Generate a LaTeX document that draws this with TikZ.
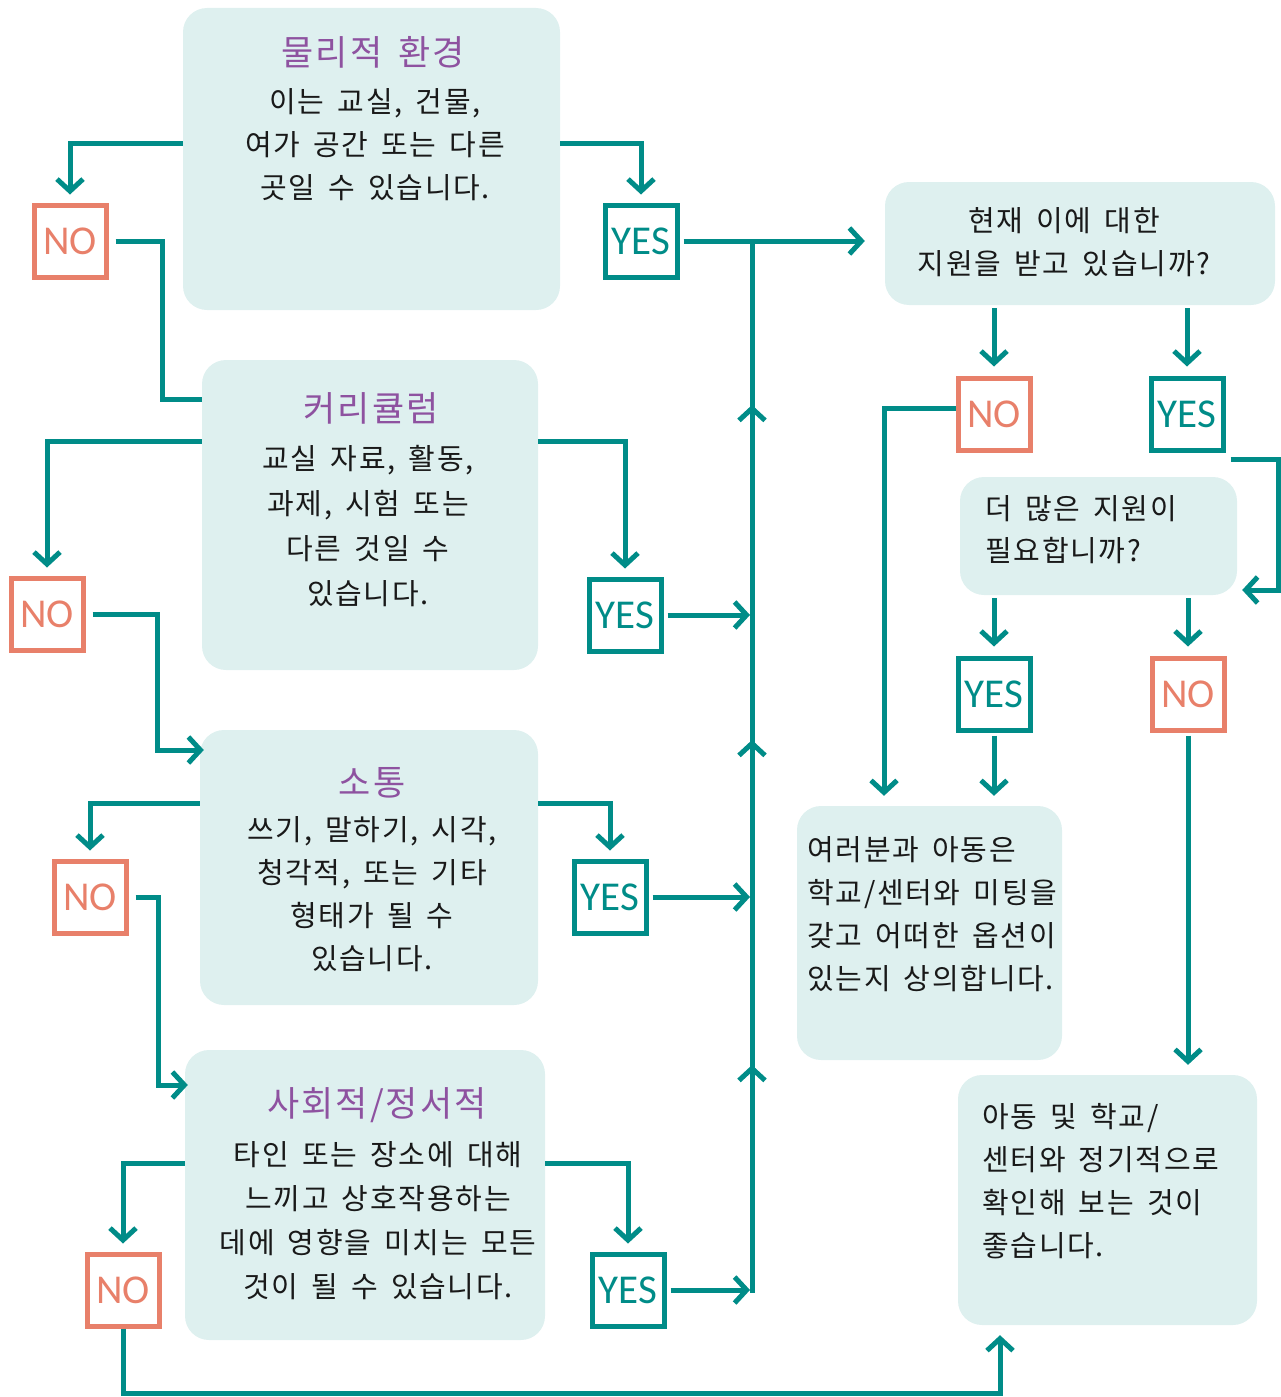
\documentclass[tikz,border=0pt]{standalone}
\usepackage{fontspec}
\setmainfont{Noto Sans CJK KR}[LetterSpace=6,WordSpace=1.6]
\newfontfamily\ynfont{Carlito}
\usetikzlibrary{arrows.meta}
\definecolor{teal1}{RGB}{0,140,136}
\definecolor{sal}{RGB}{232,128,106}
\definecolor{boxfill}{RGB}{222,240,239}
\definecolor{ttl}{RGB}{142,82,160}
\definecolor{txt}{RGB}{25,25,25}
\begin{document}
\begin{tikzpicture}[x=1pt,y=-1pt,
  bigbox/.style={fill=boxfill, rounded corners=24pt, inner sep=0pt, draw=none},
  decbox/.style={line width=5pt, minimum size=72pt, inner sep=0pt, font=\ynfont\fontsize{41}{44}\selectfont},
  yesbox/.style={decbox, draw=teal1, text=teal1},
  nobox/.style={decbox, draw=sal, text=sal},
  conn/.style={draw=teal1, line width=5pt},
  arr/.style={conn, -{Straight Barb[length=12pt,width=26pt]}},
  title/.style={text=ttl, inner sep=0pt, font=\fontsize{35}{40}\selectfont},
  body/.style={text=txt, inner sep=0pt, align=center, font=\fontsize{29}{43}\selectfont},
  lbody/.style={text=txt, inner sep=0pt, align=left, anchor=west, font=\fontsize{29}{43}\selectfont}
]
\useasboundingbox (0,0) rectangle (1281,1397);

% big boxes
\node[bigbox, minimum width=377pt, minimum height=302pt] (b1) at (371.5,159) {};
\node[bigbox, minimum width=336pt, minimum height=310pt] (b2) at (370,515) {};
\node[bigbox, minimum width=338pt, minimum height=275pt] (b3) at (369,867.5) {};
\node[bigbox, minimum width=360pt, minimum height=290pt] (b4) at (365,1195) {};
\node[bigbox, minimum width=390pt, minimum height=123pt] (b5) at (1080,243.5) {};
\node[bigbox, minimum width=277pt, minimum height=118pt] (b6) at (1098.5,536) {};
\node[bigbox, minimum width=265pt, minimum height=254pt] (b7) at (929.5,933) {};
\node[bigbox, minimum width=299pt, minimum height=250pt] (b8) at (1107.5,1200) {};

% texts
\node[title] (h1) at (373,52) {물리적 환경};
\node[body] (t1) at (375,145) {이는 교실, 건물,\\여가 공간 또는 다른\\곳일 수 있습니다.};
\node[title] (h2) at (371,408) {커리큘럼};
\node[body, font=\fontsize{29}{45}\selectfont] (t2) at (368,526.5) {교실 자료, 활동,\\과제, 시험 또는\\다른 것일 수\\있습니다.};
\node[title] (h3) at (372,783) {소통};
\node[body] (t3) at (372,894.5) {쓰기, 말하기, 시각,\\청각적, 또는 기타\\형태가 될 수\\있습니다.};
\node[title] (h4) at (377,1105) {사회적/정서적};
\node[body, font=\fontsize{29}{44}\selectfont] (t4) at (378,1221) {타인 또는 장소에 대해\\느끼고 상호작용하는\\데에 영향을 미치는 모든\\것이 될 수 있습니다.};
\node[body] (t5) at (1064,242.5) {현재 이에 대한\\지원을 받고 있습니까?};
\node[lbody, font=\fontsize{29}{42}\selectfont] (t6) at (985,530) {더 많은 지원이\\필요합니까?};
\node[lbody] (t7) at (807,914) {여러분과 아동은\\학교/센터와 미팅을\\갖고 어떠한 옵션이\\있는지 상의합니다.};
\node[lbody] (t8) at (982,1181.5) {아동 및 학교/\\센터와 정기적으로\\확인해 보는 것이\\좋습니다.};

% yes/no boxes
\node[nobox] (no1) at (70,241) {NO};
\node[yesbox] (yes1) at (641,241) {YES};
\node[nobox] (no2) at (47,614) {NO};
\node[yesbox] (yes2) at (625,615) {YES};
\node[nobox] (no3) at (90,897) {NO};
\node[yesbox] (yes3) at (610,897) {YES};
\node[nobox] (no4) at (123,1290) {NO};
\node[yesbox] (yes4) at (628,1290) {YES};
\node[nobox] (no5) at (994,414) {NO};
\node[yesbox] (yes5) at (1187,414) {YES};
\node[yesbox] (yes6) at (994,694) {YES};
\node[nobox] (no6) at (1188,694) {NO};

% junction points on the collecting line
\coordinate (j1) at (752,241);
\coordinate (j2) at (752,615);
\coordinate (j3) at (752,897);
\coordinate (j4) at (752,1290);
\coordinate (m1) at (752,405);
\coordinate (m2) at (752,740);
\coordinate (m3) at (752,1065);

% left column connectors
\draw[arr, shorten >=8pt] ([yshift=16pt]b1.west) -| (no1.north);
\draw[arr, shorten >=8pt] ([yshift=16pt]b1.east) -| (yes1.north);
\draw[conn, shorten <=7pt] (no1.east) -- ++(54,0) |- ([yshift=116pt]b2.west);

\draw[arr, shorten >=8pt] ([yshift=74pt]b2.west) -| (no2.north);
\draw[arr, shorten >=8pt] ([yshift=74pt]b2.east) -| (yes2.north);
\draw[arr, shorten <=7pt] (no2.east) -- ++(72,0) |- ([yshift=117.5pt,xshift=4pt]b3.west);
\draw[arr, shorten <=4pt, shorten >=2pt] (yes2.east) -- (yes2.east -| j2);

\draw[arr, shorten >=8pt] ([yshift=64.5pt]b3.west) -| (no3.north);
\draw[arr, shorten >=8pt] ([yshift=64.5pt]b3.east) -| (yes3.north);
\draw[arr, shorten <=7pt] (no3.east) -- ++(30,0) |- ([yshift=110pt,xshift=3pt]b4.west);
\draw[arr, shorten <=4pt, shorten >=2pt] (yes3.east) -- (yes3.east -| j3);

\draw[arr, shorten >=8pt] ([yshift=32pt]b4.west) -| (no4.north);
\draw[arr, shorten >=8pt] ([yshift=32pt]b4.east) -| (yes4.north);
\draw[arr, shorten <=4pt, shorten >=2pt] (yes4.east) -- (yes4.east -| j4);
\draw[arr, shorten >=10pt] (no4.south) -- ++(0,65) -| ([xshift=-107.5pt]b8.south);

% collecting line
\draw[conn] ([yshift=-2.5pt]j4) -- (m3) -- (j1);
\draw[arr] (j4) -- (m3);
\draw[arr] (j3) -- (m2);
\draw[arr] (j2) -- (m1);
\draw[arr, shorten <=4pt, shorten >=20pt] (yes1.east) -- (yes1.east -| b5.west);

% right column connectors
\draw[arr, shorten <=3pt, shorten >=9pt] (b5.south -| no5.north) -- (no5.north);
\draw[arr, shorten <=3pt, shorten >=9pt] (b5.south -| yes5.north) -- (yes5.north);
\draw[arr, shorten >=10pt] ([yshift=6pt]no5.west) -| ([xshift=-45.5pt]b7.north);
\draw[arr] ([yshift=-7pt,xshift=5pt]yes5.south east) -- ++(48,0) |- ([yshift=-54pt,xshift=5pt]b6.east);
\draw[arr, shorten <=3pt, shorten >=9pt] (b6.south -| yes6.north) -- (yes6.north);
\draw[arr, shorten <=3pt, shorten >=9pt] (b6.south -| no6.north) -- (no6.north);
\draw[arr, shorten <=3pt, shorten >=10pt] (yes6.south) -- (yes6.south |- b7.north);
\draw[arr, shorten <=3pt, shorten >=10pt] (no6.south) -- (no6.south |- b8.north);
\end{tikzpicture}
\end{document}
